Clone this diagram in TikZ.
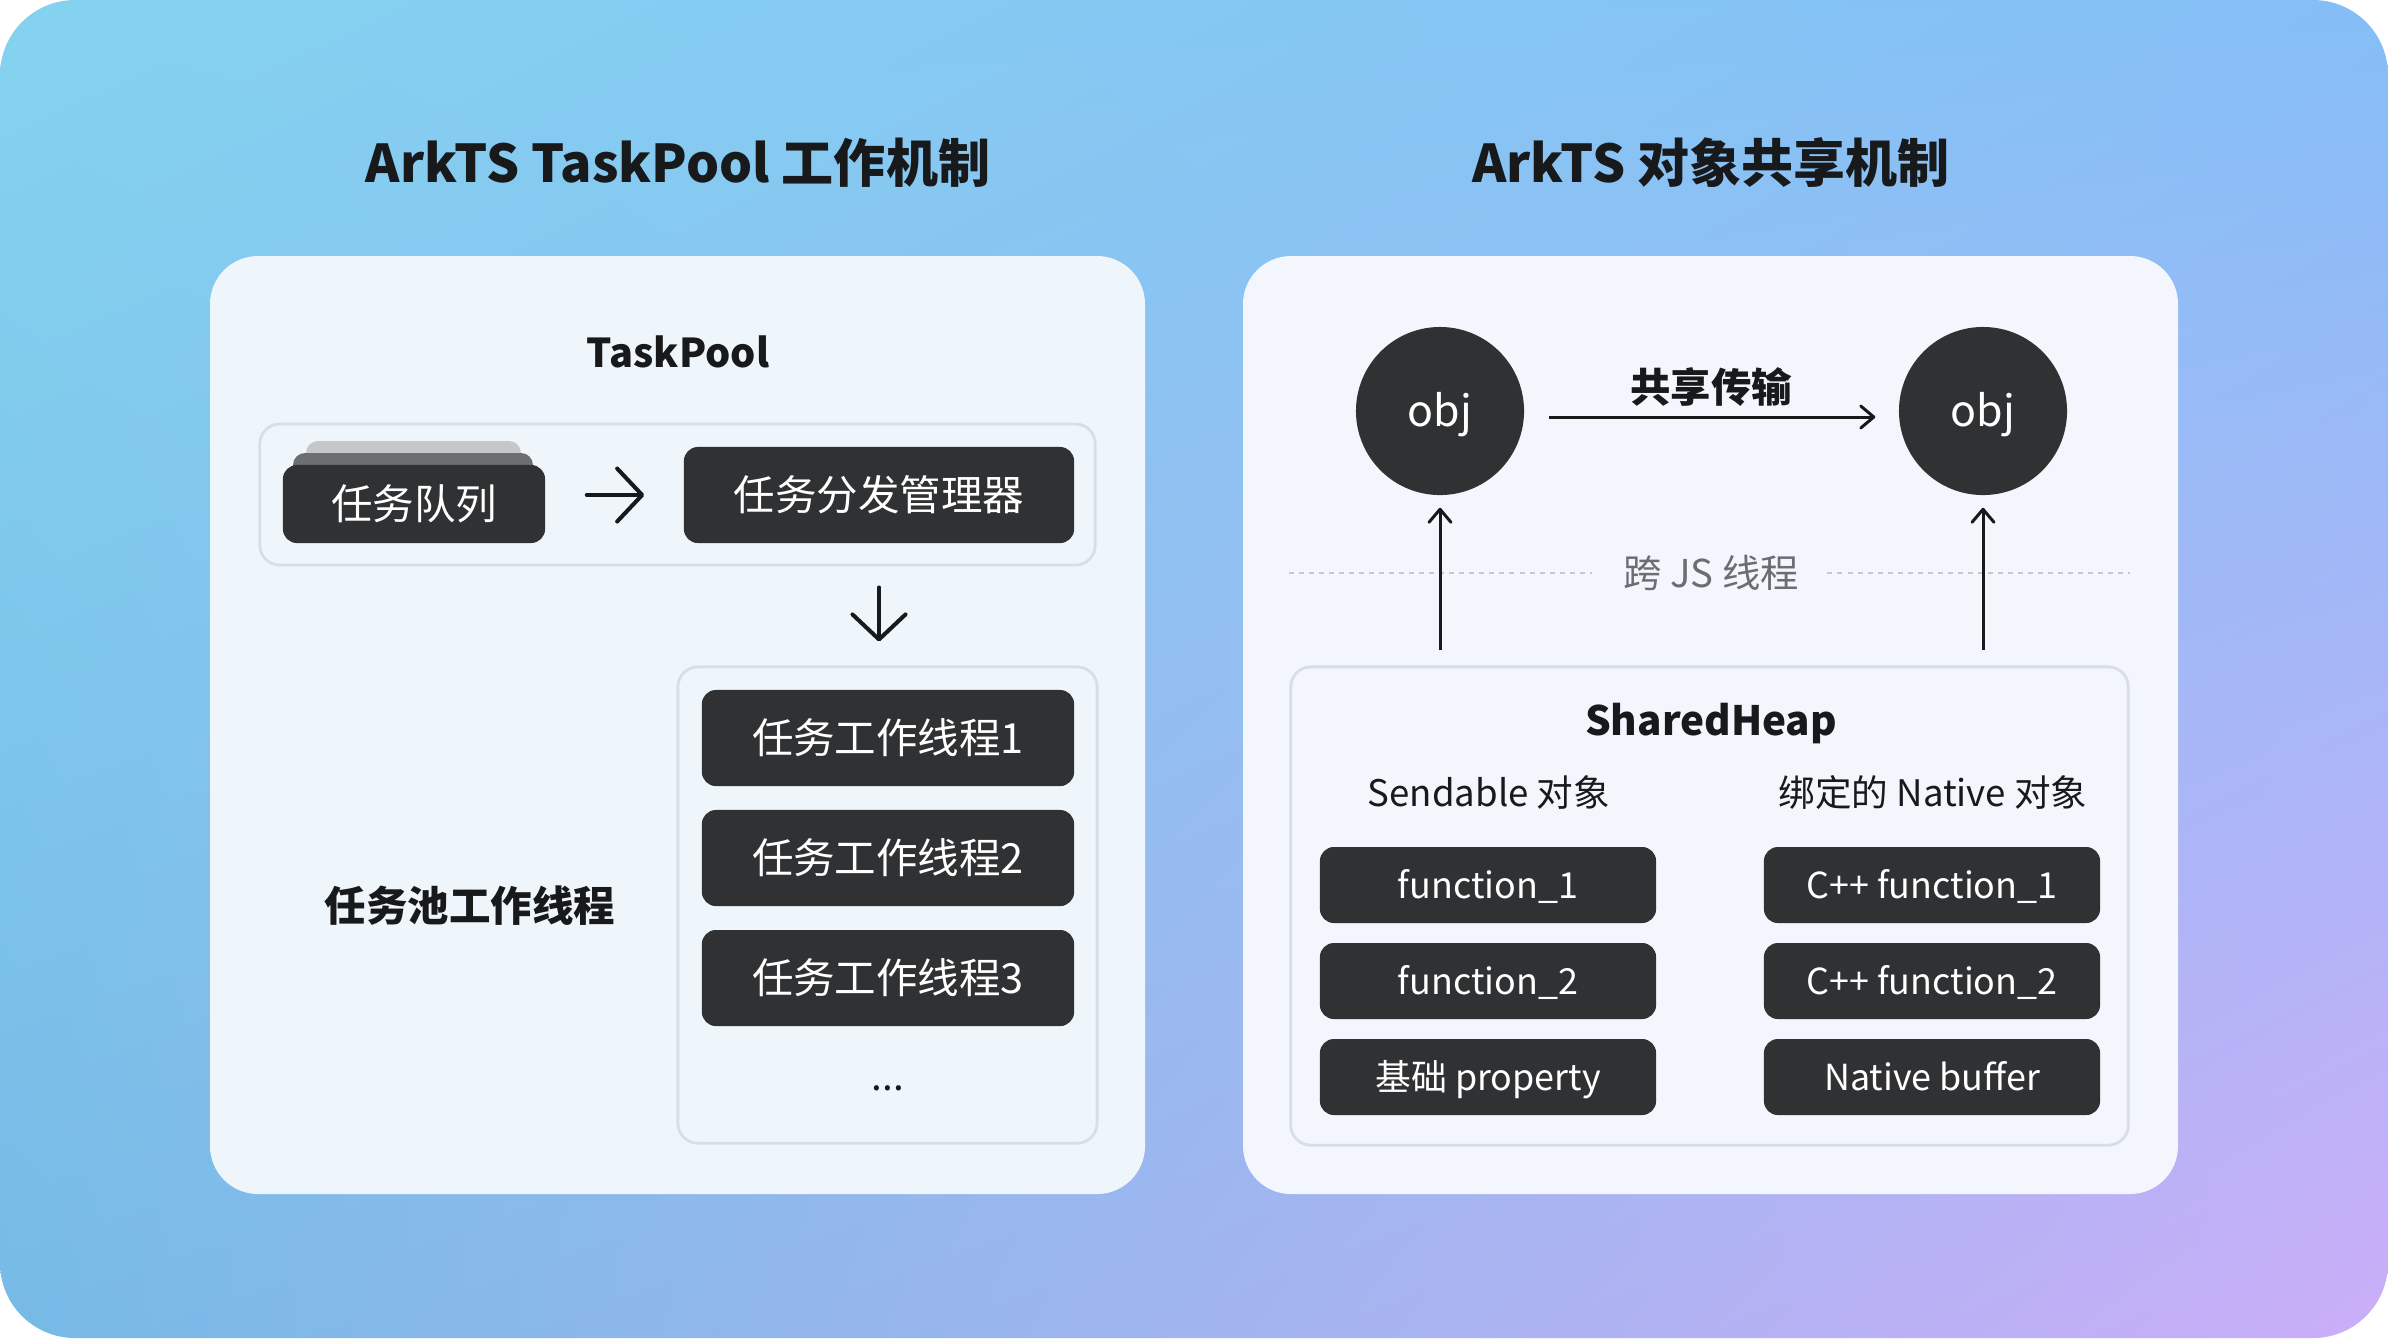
\documentclass[tikz,border=0pt]{standalone}
\usepackage{fontspec}
\setmainfont{Noto Sans CJK SC}
\usetikzlibrary{arrows.meta,calc,shadings}
\definecolor{bgTL}{HTML}{85D2F0}
\definecolor{bgTR}{HTML}{84BEF6}
\definecolor{bgBL}{HTML}{76BAE6}
\definecolor{bgBR}{HTML}{CBAEF8}
\definecolor{panelL}{HTML}{EFF6FB}
\definecolor{panelR}{HTML}{F3F6FC}
\definecolor{dark}{HTML}{2F3133}
\definecolor{grpline}{HTML}{D8DEE5}
\definecolor{ink}{HTML}{17191B}
\definecolor{graytxt}{HTML}{6A6D71}
\definecolor{dotc}{HTML}{C3C8CE}
\definecolor{layA}{HTML}{C4C8CA}
\definecolor{layB}{HTML}{6D6E70}
\tikzset{
  title/.style={inner sep=0pt, text=ink, font=\fontsize{14.8pt}{18pt}\selectfont\bfseries, text height=11.1pt, text depth=0pt},
  head/.style={inner sep=0pt, text=ink, font=\fontsize{11.8pt}{14pt}\selectfont\bfseries, text height=8.8pt, text depth=0pt},
  sub/.style={inner sep=0pt, text=ink, font=\fontsize{10.4pt}{13pt}\selectfont, text height=7.8pt, text depth=0pt},
  dbox/.style={fill=dark, rounded corners=1.4mm, inner sep=0pt, text=white, font=\fontsize{11.8pt}{14pt}\selectfont, text height=8.8pt, text depth=0pt},
  sbox/.style={fill=dark, rounded corners=1.4mm, inner sep=0pt, text=white, font=\fontsize{10.2pt}{13pt}\selectfont, text height=7.7pt, text depth=0pt, minimum width=33.6mm, minimum height=7.6mm},
  objc/.style={circle, fill=dark, minimum size=16.8mm, inner sep=0pt, text=white, font=\fontsize{12.2pt}{14pt}\selectfont, text height=9pt, text depth=0pt},
  grp/.style={draw=grpline, line width=0.8pt, rounded corners=2mm, inner sep=0pt},
  bigarr/.style={draw=ink, line width=1.15pt, line cap=round, -{Straight Barb[length=2.5mm, width=5.3mm, line cap=round, line join=round]}},
  smallarr/.style={draw=ink, line width=0.85pt, -{Straight Barb[length=1.3mm, width=2.2mm, line cap=round, line join=round]}},
  dotline/.style={draw=dotc, line width=0.8pt, dash pattern=on 0.5mm off 0.5mm}
}
\begin{document}
\begin{tikzpicture}[x=0.01cm, y=-0.01cm]
\fill[white] (0,0) rectangle (2388,1338);
\shade[rounded corners=7.5mm, upper left=bgTL, upper right=bgTR, lower left=bgBL, lower right=bgBR] (0,0) rectangle (2388,1338);

% titles
\node[title] (t1) at (678,163) {ArkTS TaskPool 工作机制};
\node[title] (t2) at (1711,163) {ArkTS 对象共享机制};

% panels
\fill[panelL, rounded corners=4.8mm] (210,256) rectangle (1145,1194);
\fill[panelR, rounded corners=4.8mm] (1243,256) rectangle (2178,1194);

% ---------- left panel ----------
\node[head, font=\fontsize{11.3pt}{14pt}\selectfont\bfseries] (tp) at (678,352) {TaskPool};
\node[grp, minimum width=83.5mm, minimum height=14.1mm] (grp) at (677.5,494.5) {};
\fill[layA, rounded corners=1.2mm] (306,441) rectangle (521,510);
\fill[layB, rounded corners=1.2mm] (293,453) rectangle (533,520);
\node[dbox, minimum width=26.2mm, minimum height=7.8mm] (q) at (414,504) {任务队列};
\node[dbox, minimum width=39mm, minimum height=9.6mm] (mgr) at (879,495) {任务分发管理器};
\draw[bigarr] ($(q.east |- mgr.west)+(41,0)$) -- ($(mgr.west)+(-39,0)$);

\node[grp, minimum width=41.9mm, minimum height=47.6mm] (pool) at (887.5,905) {};
\draw[bigarr] ($(mgr.south |- grp.south)+(0,21)$) -- ($(mgr.south |- pool.north)+(0,-24)$);
\node[dbox, minimum width=37.2mm, minimum height=9.6mm] (w1) at (888,738) {任务工作线程1};
\node[dbox, minimum width=37.2mm, minimum height=9.6mm] (w2) at (888,858) {任务工作线程2};
\node[dbox, minimum width=37.2mm, minimum height=9.6mm] (w3) at (888,978) {任务工作线程3};
\node[inner sep=0pt, anchor=base, text=ink, font=\fontsize{11pt}{13pt}\selectfont] (dots) at (888,1090) {...};
\node[head] (tpw) at (470,906) {任务池工作线程};

% ---------- right panel ----------
\node[objc] (o1) at (1440,411) {obj};
\node[objc] (o2) at (1983,411) {obj};
\draw[smallarr] ($(o1.east)+(24,6)$) -- ($(o2.west)+(-23,6)$);
\node[inner sep=0pt, text=ink, font=\fontsize{11.5pt}{13pt}\selectfont\bfseries, text height=8.6pt, text depth=0pt] (share) at (1711,387) {共享传输};

\node[grp, minimum width=83.7mm, minimum height=47.8mm] (heap) at (1709.5,906) {};
\node[inner sep=0pt, text=graytxt, font=\fontsize{10.9pt}{13pt}\selectfont, text height=8.2pt, text depth=0pt] (js) at (1711,573) {跨 JS 线程};
\draw[dotline] (heap.west |- js) -- ($(js.west)+(-31,0)$);
\draw[dotline] ($(js.east)+(28,0)$) -- (heap.east |- js);

\draw[smallarr] ($(o1.south |- heap.north)+(0,-15)$) -- ($(o1.south)+(0,12)$);
\draw[smallarr] ($(o2.south |- heap.north)+(0,-15)$) -- ($(o2.south)+(0,12)$);

\node[head, font=\fontsize{11.5pt}{14pt}\selectfont\bfseries] (sh) at (1711,720) {SharedHeap};
\node[sub] (sl) at (1489,793) {Sendable 对象};
\node[sub] (sr) at (1933,793) {绑定的 Native 对象};

\node[sbox] (l1) at (1488,885) {function\_1};
\node[sbox] (l2) at (1488,981) {function\_2};
\node[sbox] (l3) at (1488,1077) {基础 property};
\node[sbox] (r1) at (1932,885) {C++ function\_1};
\node[sbox] (r2) at (1932,981) {C++ function\_2};
\node[sbox] (r3) at (1932,1077) {Native buffer};
\end{tikzpicture}
\end{document}
